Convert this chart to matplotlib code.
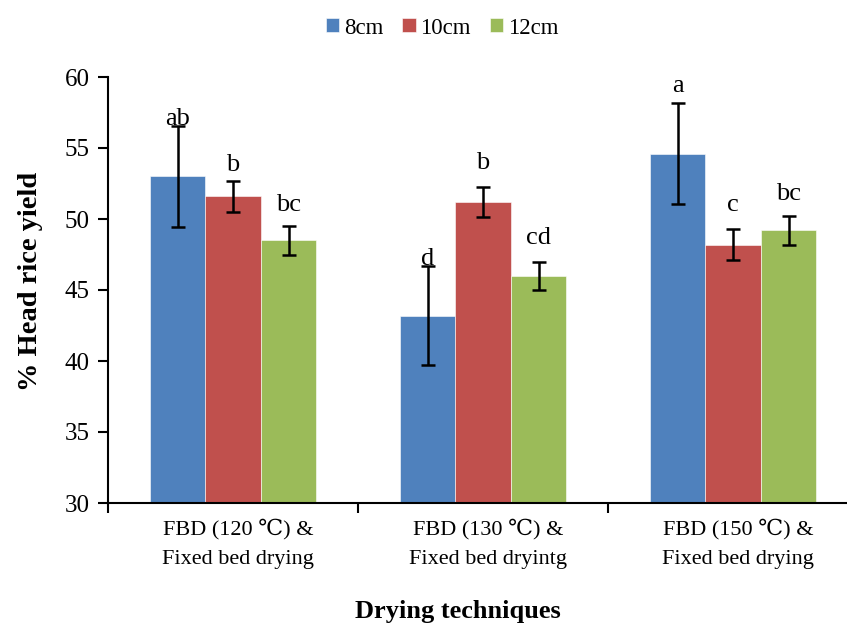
import matplotlib
matplotlib.use("Agg")
import matplotlib.pyplot as plt
import numpy as np

plt.rcParams['font.family'] = ['Liberation Serif', 'DejaVu Serif']

categories = ["FBD (120 \u2103) &\nFixed bed drying",
              "FBD (130 \u2103) &\nFixed bed dryintg",
              "FBD (150 \u2103) &\nFixed bed drying"]
series_names = ["8cm", "10cm", "12cm"]
values_8 = [53.0, 43.2, 54.6]
values_10 = [51.6, 51.2, 48.2]
values_12 = [48.5, 46.0, 49.2]
err_8 = [3.55, 3.5, 3.55]
err_10 = [1.1, 1.05, 1.1]
err_12 = [1.0, 0.97, 1.0]
letters_8 = ["ab", "d", "a"]
letters_10 = ["b", "b", "c"]
letters_12 = ["bc", "cd", "bc"]
yticks = [30, 35, 40, 45, 50, 55, 60]

colors = ["#4F81BD", "#C0504D", "#9BBB59"]
# vertical offset (pixels) of each letter's centre above its error-bar top
letter_px = [[7, 7, 17], [16, 24, 24], [21, 24, 22]]

fig = plt.figure(figsize=(8.47, 6.23), dpi=100)
ax = fig.add_axes([108/847, 120/623, 750/847, 426/623])

x = np.arange(len(categories))
w = 0.222
all_vals = [values_8, values_10, values_12]
all_err = [err_8, err_10, err_12]
all_letters = [letters_8, letters_10, letters_12]
for i in range(3):
    xs = x + (i - 1) * w
    ax.bar(xs, all_vals[i], width=w, color=colors[i], edgecolor='white',
           linewidth=0.4, label=series_names[i], zorder=2)
    ax.errorbar(xs, all_vals[i], yerr=all_err[i], fmt='none', ecolor='black',
                elinewidth=1.8, capsize=5, capthick=1.8, zorder=3)
    for j in range(3):
        top = all_vals[i][j] + all_err[i][j]
        ax.annotate(all_letters[i][j], (xs[j], top),
                    xytext=(0, letter_px[i][j] * 0.72), textcoords='offset points',
                    ha='center', va='center', fontsize=19)

ax.set_ylim(30, 60)
ax.set_xlim(-0.5, 2.5)
ax.set_yticks(yticks)
ax.set_yticklabels([str(t) for t in yticks], fontsize=18)
ax.tick_params(axis='y', direction='out', length=7, width=1.5, pad=6)

ax.set_xticks([-0.5, 0.5, 1.5, 2.5])
ax.set_xticklabels([])
ax.tick_params(axis='x', which='major', direction='out', length=7, width=1.5)
ax.set_xticks(x + 0.02, minor=True)
ax.set_xticklabels(categories, minor=True, fontsize=16, linespacing=1.8)
ax.tick_params(axis='x', which='minor', length=0, pad=11)

for s in ['top', 'right']:
    ax.spines[s].set_visible(False)
for s in ['left', 'bottom']:
    ax.spines[s].set_linewidth(1.5)

ax.set_ylabel("% Head rice yield", fontsize=20.5, fontweight='bold')
ax.yaxis.set_label_coords(-0.087, 0.52)
ax.set_xlabel("Drying techniques", fontsize=19, fontweight='bold')
ax.xaxis.set_label_coords(0.467, -0.228)

fig.legend(loc='center', bbox_to_anchor=(0.522, 0.955), ncol=3, frameon=False,
           fontsize=16.5, handlelength=0.57, handleheight=0.57, handletextpad=0.2,
           columnspacing=0.85, borderpad=0)

fig.savefig("out.png", dpi=100)
